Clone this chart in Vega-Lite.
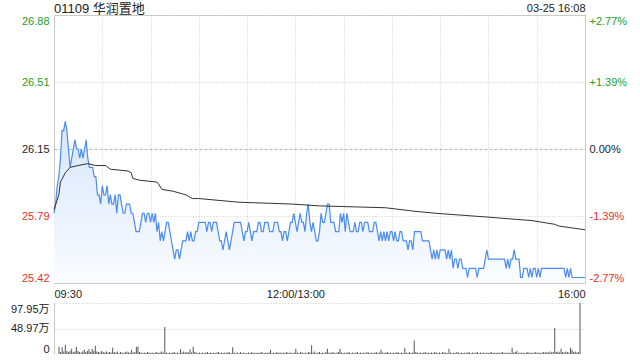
{
  "$schema": "https://vega.github.io/schema/vega-lite/v6.json",
  "padding": {"left": 10, "top": 1, "right": 0, "bottom": 0},
  "background": "white",
  "config": {
    "font": "Liberation Sans, Noto Sans CJK SC",
    "view": {"stroke": null},
    "axis": {"labelFont": "Liberation Sans, Noto Sans CJK SC", "labelFontSize": 11, "ticks": false, "domain": false, "title": null}
  },
  "datasets": {
    "price": [
      {"m":0,"p":25.80},{"m":1,"p":25.85},{"m":2,"p":25.95},{"m":3,"p":26.00},{"m":4,"p":26.10},{"m":5,"p":26.25},{"m":6,"p":26.25},{"m":7,"p":26.30},{"m":8,"p":26.25},{"m":9,"p":26.15},
      {"m":10,"p":26.05},{"m":11,"p":26.10},{"m":12,"p":26.15},{"m":13,"p":26.20},{"m":14,"p":26.15},{"m":15,"p":26.15},{"m":16,"p":26.10},{"m":17,"p":26.15},{"m":18,"p":26.10},{"m":19,"p":26.15},
      {"m":20,"p":26.20},{"m":21,"p":26.10},{"m":22,"p":26.05},{"m":23,"p":26.05},{"m":24,"p":26.05},{"m":25,"p":26.00},{"m":26,"p":26.00},{"m":27,"p":25.90},{"m":28,"p":25.90},{"m":29,"p":25.85},
      {"m":30,"p":25.95},{"m":31,"p":25.90},{"m":32,"p":25.90},{"m":33,"p":25.95},{"m":34,"p":25.85},{"m":35,"p":25.90},{"m":36,"p":25.85},{"m":37,"p":25.85},{"m":38,"p":25.90},{"m":39,"p":25.80},
      {"m":40,"p":25.90},{"m":41,"p":25.90},{"m":42,"p":25.85},{"m":43,"p":25.80},{"m":44,"p":25.80},{"m":45,"p":25.85},{"m":46,"p":25.85},{"m":47,"p":25.85},{"m":48,"p":25.80},{"m":49,"p":25.80},
      {"m":50,"p":25.75},{"m":51,"p":25.70},{"m":52,"p":25.70},{"m":53,"p":25.70},{"m":54,"p":25.75},{"m":55,"p":25.80},{"m":56,"p":25.80},{"m":57,"p":25.75},{"m":58,"p":25.80},{"m":59,"p":25.80},
      {"m":60,"p":25.75},{"m":61,"p":25.80},{"m":62,"p":25.75},{"m":63,"p":25.80},{"m":64,"p":25.70},{"m":65,"p":25.75},{"m":66,"p":25.65},{"m":67,"p":25.70},{"m":68,"p":25.65},{"m":69,"p":25.70},
      {"m":70,"p":25.75},{"m":71,"p":25.75},{"m":72,"p":25.70},{"m":73,"p":25.65},{"m":74,"p":25.60},{"m":75,"p":25.55},{"m":76,"p":25.60},{"m":77,"p":25.60},{"m":78,"p":25.55},{"m":79,"p":25.60},
      {"m":80,"p":25.65},{"m":81,"p":25.65},{"m":82,"p":25.65},{"m":83,"p":25.70},{"m":84,"p":25.65},{"m":85,"p":25.70},{"m":86,"p":25.65},{"m":87,"p":25.65},{"m":88,"p":25.70},{"m":89,"p":25.70},
      {"m":90,"p":25.75},{"m":91,"p":25.75},{"m":92,"p":25.75},{"m":93,"p":25.75},{"m":94,"p":25.75},{"m":95,"p":25.70},{"m":96,"p":25.75},{"m":97,"p":25.75},{"m":98,"p":25.70},{"m":99,"p":25.75},
      {"m":100,"p":25.75},{"m":101,"p":25.75},{"m":102,"p":25.70},{"m":103,"p":25.65},{"m":104,"p":25.65},{"m":105,"p":25.60},{"m":106,"p":25.65},{"m":107,"p":25.70},{"m":108,"p":25.65},{"m":109,"p":25.60},
      {"m":110,"p":25.65},{"m":111,"p":25.70},{"m":112,"p":25.75},{"m":113,"p":25.75},{"m":114,"p":25.75},{"m":115,"p":25.75},{"m":116,"p":25.75},{"m":117,"p":25.70},{"m":118,"p":25.65},{"m":119,"p":25.70},
      {"m":120,"p":25.70},{"m":121,"p":25.75},{"m":122,"p":25.70},{"m":123,"p":25.65},{"m":124,"p":25.70},{"m":125,"p":25.70},{"m":126,"p":25.70},{"m":127,"p":25.75},{"m":128,"p":25.75},{"m":129,"p":25.70},
      {"m":130,"p":25.70},{"m":131,"p":25.75},{"m":132,"p":25.75},{"m":133,"p":25.75},{"m":134,"p":25.70},{"m":135,"p":25.70},{"m":136,"p":25.70},{"m":137,"p":25.75},{"m":138,"p":25.75},{"m":139,"p":25.75},
      {"m":140,"p":25.70},{"m":141,"p":25.70},{"m":142,"p":25.65},{"m":143,"p":25.70},{"m":144,"p":25.70},{"m":145,"p":25.65},{"m":146,"p":25.70},{"m":147,"p":25.75},{"m":148,"p":25.75},{"m":149,"p":25.80},
      {"m":150,"p":25.75},{"m":151,"p":25.70},{"m":152,"p":25.75},{"m":153,"p":25.80},{"m":154,"p":25.75},{"m":155,"p":25.75},{"m":156,"p":25.70},{"m":157,"p":25.80},{"m":158,"p":25.85},{"m":159,"p":25.75},
      {"m":160,"p":25.70},{"m":161,"p":25.75},{"m":162,"p":25.70},{"m":163,"p":25.65},{"m":164,"p":25.65},{"m":165,"p":25.70},{"m":166,"p":25.80},{"m":167,"p":25.75},{"m":168,"p":25.75},{"m":169,"p":25.80},
      {"m":170,"p":25.85},{"m":171,"p":25.85},{"m":172,"p":25.75},{"m":173,"p":25.75},{"m":174,"p":25.75},{"m":175,"p":25.70},{"m":176,"p":25.70},{"m":177,"p":25.70},{"m":178,"p":25.80},{"m":179,"p":25.75},
      {"m":180,"p":25.80},{"m":181,"p":25.70},{"m":182,"p":25.80},{"m":183,"p":25.75},{"m":184,"p":25.70},{"m":185,"p":25.70},{"m":186,"p":25.70},{"m":187,"p":25.75},{"m":188,"p":25.70},{"m":189,"p":25.70},
      {"m":190,"p":25.75},{"m":191,"p":25.75},{"m":192,"p":25.70},{"m":193,"p":25.75},{"m":194,"p":25.75},{"m":195,"p":25.75},{"m":196,"p":25.70},{"m":197,"p":25.70},{"m":198,"p":25.70},{"m":199,"p":25.75},
      {"m":200,"p":25.75},{"m":201,"p":25.70},{"m":202,"p":25.65},{"m":203,"p":25.70},{"m":204,"p":25.65},{"m":205,"p":25.70},{"m":206,"p":25.65},{"m":207,"p":25.70},{"m":208,"p":25.65},{"m":209,"p":25.70},
      {"m":210,"p":25.70},{"m":211,"p":25.65},{"m":212,"p":25.70},{"m":213,"p":25.65},{"m":214,"p":25.65},{"m":215,"p":25.70},{"m":216,"p":25.70},{"m":217,"p":25.65},{"m":218,"p":25.65},{"m":219,"p":25.65},
      {"m":220,"p":25.60},{"m":221,"p":25.65},{"m":222,"p":25.65},{"m":223,"p":25.60},{"m":224,"p":25.70},{"m":225,"p":25.70},{"m":226,"p":25.70},{"m":227,"p":25.70},{"m":228,"p":25.70},{"m":229,"p":25.65},
      {"m":230,"p":25.65},{"m":231,"p":25.65},{"m":232,"p":25.65},{"m":233,"p":25.65},{"m":234,"p":25.60},{"m":235,"p":25.55},{"m":236,"p":25.60},{"m":237,"p":25.55},{"m":238,"p":25.60},{"m":239,"p":25.55},
      {"m":240,"p":25.60},{"m":241,"p":25.60},{"m":242,"p":25.60},{"m":243,"p":25.60},{"m":244,"p":25.55},{"m":245,"p":25.60},{"m":246,"p":25.55},{"m":247,"p":25.60},{"m":248,"p":25.50},{"m":249,"p":25.55},
      {"m":250,"p":25.55},{"m":251,"p":25.50},{"m":252,"p":25.55},{"m":253,"p":25.55},{"m":254,"p":25.50},{"m":255,"p":25.50},{"m":256,"p":25.50},{"m":257,"p":25.45},{"m":258,"p":25.50},{"m":259,"p":25.50},
      {"m":260,"p":25.50},{"m":261,"p":25.50},{"m":262,"p":25.50},{"m":263,"p":25.45},{"m":264,"p":25.50},{"m":265,"p":25.50},{"m":266,"p":25.50},{"m":267,"p":25.50},{"m":268,"p":25.55},{"m":269,"p":25.60},
      {"m":270,"p":25.55},{"m":271,"p":25.55},{"m":272,"p":25.55},{"m":273,"p":25.55},{"m":274,"p":25.55},{"m":275,"p":25.55},{"m":276,"p":25.55},{"m":277,"p":25.55},{"m":278,"p":25.55},{"m":279,"p":25.55},
      {"m":280,"p":25.55},{"m":281,"p":25.50},{"m":282,"p":25.55},{"m":283,"p":25.50},{"m":284,"p":25.55},{"m":285,"p":25.55},{"m":286,"p":25.60},{"m":287,"p":25.55},{"m":288,"p":25.55},{"m":289,"p":25.55},
      {"m":290,"p":25.45},{"m":291,"p":25.45},{"m":292,"p":25.50},{"m":293,"p":25.50},{"m":294,"p":25.50},{"m":295,"p":25.45},{"m":296,"p":25.50},{"m":297,"p":25.45},{"m":298,"p":25.50},{"m":299,"p":25.50},
      {"m":300,"p":25.45},{"m":301,"p":25.50},{"m":302,"p":25.45},{"m":303,"p":25.50},{"m":304,"p":25.50},{"m":305,"p":25.50},{"m":306,"p":25.50},{"m":307,"p":25.50},{"m":308,"p":25.50},{"m":309,"p":25.50},
      {"m":310,"p":25.50},{"m":311,"p":25.50},{"m":312,"p":25.50},{"m":313,"p":25.50},{"m":314,"p":25.50},{"m":315,"p":25.50},{"m":316,"p":25.50},{"m":317,"p":25.50},{"m":318,"p":25.45},{"m":319,"p":25.50},
      {"m":320,"p":25.45},{"m":321,"p":25.50},{"m":322,"p":25.45},{"m":323,"p":25.45},{"m":324,"p":25.45},{"m":325,"p":25.45},{"m":326,"p":25.45},{"m":327,"p":25.45},{"m":328,"p":25.45},{"m":329,"p":25.45},
      {"m":330,"p":25.45}
    ],
    "avg": [
      {"m":0,"a":25.82},{"m":3,"a":25.90},{"m":4,"a":25.97},{"m":7,"a":26.02},{"m":10,"a":26.05},{"m":15,"a":26.06},{"m":21,"a":26.07},{"m":26,"a":26.06},{"m":32,"a":26.06},{"m":35,"a":26.04},
      {"m":46,"a":26.03},{"m":48,"a":26.02},{"m":49,"a":25.99},{"m":53,"a":25.98},{"m":64,"a":25.97},{"m":65,"a":25.96},{"m":67,"a":25.93},{"m":74,"a":25.92},{"m":82,"a":25.90},{"m":84,"a":25.89},
      {"m":86,"a":25.88},{"m":90,"a":25.88},{"m":115,"a":25.86},{"m":148,"a":25.85},{"m":165,"a":25.84},{"m":206,"a":25.83},{"m":225,"a":25.81},{"m":237,"a":25.80},{"m":268,"a":25.78},{"m":297,"a":25.76},
      {"m":311,"a":25.74},{"m":314,"a":25.73},{"m":330,"a":25.71}
    ],
    "vol": [
      {"m":0,"v":14},{"m":1,"v":4},{"m":2,"v":13},{"m":3,"v":5},{"m":4,"v":18},{"m":5,"v":6},{"m":6,"v":4},{"m":7,"v":6},{"m":8,"v":10},{"m":9,"v":4},
      {"m":10,"v":5},{"m":11,"v":14},{"m":12,"v":6},{"m":13,"v":4},{"m":14,"v":3},{"m":15,"v":5},{"m":16,"v":8},{"m":17,"v":4},{"m":18,"v":6},{"m":19,"v":9},
      {"m":20,"v":4},{"m":21,"v":10},{"m":22,"v":6},{"m":23,"v":16},{"m":24,"v":5},{"m":25,"v":4},{"m":26,"v":3},{"m":27,"v":6},{"m":28,"v":4},{"m":29,"v":3},
      {"m":30,"v":5},{"m":31,"v":3},{"m":32,"v":4},{"m":33,"v":3},{"m":34,"v":12},{"m":35,"v":4},{"m":36,"v":3},{"m":37,"v":5},{"m":38,"v":2},{"m":39,"v":4},
      {"m":40,"v":3},{"m":41,"v":2},{"m":42,"v":4},{"m":43,"v":5},{"m":44,"v":3},{"m":45,"v":3},{"m":46,"v":8},{"m":47,"v":3},{"m":48,"v":4},{"m":49,"v":14},
      {"m":50,"v":14},{"m":51,"v":4},{"m":52,"v":3},{"m":53,"v":2},{"m":54,"v":3},{"m":55,"v":2},{"m":56,"v":4},{"m":57,"v":3},{"m":58,"v":2},{"m":59,"v":3},
      {"m":60,"v":2},{"m":61,"v":3},{"m":62,"v":4},{"m":63,"v":2},{"m":64,"v":3},{"m":65,"v":5},{"m":66,"v":3},{"m":67,"v":52},{"m":68,"v":3},{"m":69,"v":2},
      {"m":70,"v":3},{"m":71,"v":2},{"m":72,"v":3},{"m":73,"v":4},{"m":74,"v":2},{"m":75,"v":3},{"m":76,"v":2},{"m":77,"v":9},{"m":78,"v":3},{"m":79,"v":5},
      {"m":80,"v":3},{"m":81,"v":4},{"m":82,"v":3},{"m":83,"v":9},{"m":84,"v":3},{"m":85,"v":14},{"m":86,"v":4},{"m":87,"v":3},{"m":88,"v":2},{"m":89,"v":3},
      {"m":90,"v":2},{"m":91,"v":3},{"m":92,"v":2},{"m":93,"v":3},{"m":94,"v":4},{"m":95,"v":2},{"m":96,"v":3},{"m":97,"v":2},{"m":98,"v":3},{"m":99,"v":2},
      {"m":100,"v":3},{"m":101,"v":4},{"m":102,"v":2},{"m":103,"v":3},{"m":104,"v":2},{"m":105,"v":3},{"m":106,"v":2},{"m":107,"v":4},{"m":108,"v":3},{"m":109,"v":2},
      {"m":110,"v":13},{"m":111,"v":3},{"m":112,"v":2},{"m":113,"v":3},{"m":114,"v":2},{"m":115,"v":4},{"m":116,"v":2},{"m":117,"v":3},{"m":118,"v":2},{"m":119,"v":2},
      {"m":120,"v":3},{"m":121,"v":2},{"m":122,"v":4},{"m":123,"v":2},{"m":124,"v":3},{"m":125,"v":2},{"m":126,"v":3},{"m":127,"v":2},{"m":128,"v":4},{"m":129,"v":3},
      {"m":130,"v":2},{"m":131,"v":3},{"m":132,"v":2},{"m":133,"v":3},{"m":134,"v":8},{"m":135,"v":2},{"m":136,"v":3},{"m":137,"v":2},{"m":138,"v":4},{"m":139,"v":2},
      {"m":140,"v":3},{"m":141,"v":2},{"m":142,"v":3},{"m":143,"v":2},{"m":144,"v":4},{"m":145,"v":3},{"m":146,"v":2},{"m":147,"v":3},{"m":148,"v":2},{"m":149,"v":3},
      {"m":150,"v":10},{"m":151,"v":3},{"m":152,"v":2},{"m":153,"v":4},{"m":154,"v":3},{"m":155,"v":2},{"m":156,"v":3},{"m":157,"v":2},{"m":158,"v":4},{"m":159,"v":3},
      {"m":160,"v":17},{"m":161,"v":3},{"m":162,"v":5},{"m":163,"v":2},{"m":164,"v":3},{"m":165,"v":4},{"m":166,"v":2},{"m":167,"v":3},{"m":168,"v":2},{"m":169,"v":4},
      {"m":170,"v":10},{"m":171,"v":3},{"m":172,"v":2},{"m":173,"v":4},{"m":174,"v":3},{"m":175,"v":2},{"m":176,"v":3},{"m":177,"v":4},{"m":178,"v":10},{"m":179,"v":3},
      {"m":180,"v":2},{"m":181,"v":3},{"m":182,"v":2},{"m":183,"v":4},{"m":184,"v":3},{"m":185,"v":2},{"m":186,"v":3},{"m":187,"v":2},{"m":188,"v":3},{"m":189,"v":4},
      {"m":190,"v":2},{"m":191,"v":3},{"m":192,"v":2},{"m":193,"v":3},{"m":194,"v":2},{"m":195,"v":4},{"m":196,"v":3},{"m":197,"v":2},{"m":198,"v":3},{"m":199,"v":2},
      {"m":200,"v":3},{"m":201,"v":4},{"m":202,"v":2},{"m":203,"v":3},{"m":204,"v":8},{"m":205,"v":3},{"m":206,"v":2},{"m":207,"v":3},{"m":208,"v":4},{"m":209,"v":2},
      {"m":210,"v":3},{"m":211,"v":2},{"m":212,"v":3},{"m":213,"v":2},{"m":214,"v":4},{"m":215,"v":3},{"m":216,"v":2},{"m":217,"v":3},{"m":218,"v":2},{"m":219,"v":12},
      {"m":220,"v":3},{"m":221,"v":2},{"m":222,"v":4},{"m":223,"v":2},{"m":224,"v":3},{"m":225,"v":26},{"m":226,"v":4},{"m":227,"v":3},{"m":228,"v":2},{"m":229,"v":3},
      {"m":230,"v":2},{"m":231,"v":3},{"m":232,"v":4},{"m":233,"v":2},{"m":234,"v":3},{"m":235,"v":2},{"m":236,"v":3},{"m":237,"v":2},{"m":238,"v":4},{"m":239,"v":3},
      {"m":240,"v":2},{"m":241,"v":3},{"m":242,"v":2},{"m":243,"v":4},{"m":244,"v":3},{"m":245,"v":3},{"m":246,"v":2},{"m":247,"v":10},{"m":248,"v":3},{"m":249,"v":2},
      {"m":250,"v":3},{"m":251,"v":2},{"m":252,"v":4},{"m":253,"v":3},{"m":254,"v":2},{"m":255,"v":3},{"m":256,"v":2},{"m":257,"v":3},{"m":258,"v":2},{"m":259,"v":4},
      {"m":260,"v":3},{"m":261,"v":2},{"m":262,"v":3},{"m":263,"v":2},{"m":264,"v":3},{"m":265,"v":4},{"m":266,"v":2},{"m":267,"v":3},{"m":268,"v":2},{"m":269,"v":3},
      {"m":270,"v":2},{"m":271,"v":3},{"m":272,"v":2},{"m":273,"v":3},{"m":274,"v":4},{"m":275,"v":2},{"m":276,"v":3},{"m":277,"v":2},{"m":278,"v":3},{"m":279,"v":2},
      {"m":280,"v":3},{"m":281,"v":4},{"m":282,"v":2},{"m":283,"v":3},{"m":284,"v":2},{"m":285,"v":3},{"m":286,"v":2},{"m":287,"v":12},{"m":288,"v":3},{"m":289,"v":4},
      {"m":290,"v":6},{"m":291,"v":2},{"m":292,"v":3},{"m":293,"v":2},{"m":294,"v":3},{"m":295,"v":2},{"m":296,"v":3},{"m":297,"v":4},{"m":298,"v":2},{"m":299,"v":3},
      {"m":300,"v":2},{"m":301,"v":3},{"m":302,"v":4},{"m":303,"v":2},{"m":304,"v":3},{"m":305,"v":2},{"m":306,"v":3},{"m":307,"v":4},{"m":308,"v":3},{"m":309,"v":4},
      {"m":310,"v":3},{"m":311,"v":5},{"m":312,"v":3},{"m":313,"v":4},{"m":314,"v":50},{"m":315,"v":4},{"m":316,"v":5},{"m":317,"v":3},{"m":318,"v":10},{"m":319,"v":4},
      {"m":320,"v":3},{"m":321,"v":5},{"m":322,"v":4},{"m":323,"v":3},{"m":324,"v":12},{"m":325,"v":8},{"m":326,"v":4},{"m":327,"v":5},{"m":328,"v":3},{"m":329,"v":4},
      {"m":330,"v":97.95}
    ]
  },
  "vconcat": [
    {
      "width": 531,
      "height": 268,
      "title": {"text": "01109 华润置地", "anchor": "start", "frame": "group", "fontSize": 13, "fontWeight": "normal", "color": "#222", "offset": -14},
      "view": {"stroke": "#c8c8c8"},
      "layer": [
        {
          "data": {"name": "price"},
          "mark": {"type": "area", "color": {"gradient": "linear", "x1": 0, "y1": 0, "x2": 0, "y2": 1, "stops": [{"offset": 0, "color": "#d6e5fa"}, {"offset": 1, "color": "#fafcff"}]}},
          "encoding": {
            "x": {"field": "m", "type": "quantitative", "scale": {"domain": [0, 330], "nice": false, "zero": false},
              "axis": {"orient": "bottom", "values": [0,30,60,90,120,150,180,210,240,270,300,330],
                "labelExpr": "datum.value == 0 ? '09:30' : datum.value == 150 ? '12:00/13:00' : datum.value == 330 ? '16:00' : ''",
                "labelFlush": true, "labelOverlap": false, "labelPadding": 5, "labelColor": "#222", "grid": true, "gridColor": "#cfcfcf", "gridDash": [1, 2]}},
            "y": {"field": "p", "type": "quantitative", "scale": {"domain": [25.42, 26.88], "nice": false, "zero": false},
              "axis": {"orient": "left", "values": [25.42, 25.785, 26.15, 26.515, 26.88],
                "labelExpr": "datum.value < 25.5 ? '25.42' : datum.value < 26 ? '25.79' : datum.value < 26.3 ? '26.15' : datum.value < 26.7 ? '26.51' : '26.88'",
                "labelFlush": true, "labelOverlap": false, "labelPadding": 5, "grid": true,
                "labelColor": {"condition": [{"test": "datum.value > 26.2", "value": "#1f9e1f"}, {"test": "datum.value < 26.1", "value": "#e8302c"}], "value": "#222222"},
                "gridColor": {"condition": {"test": "abs(datum.value - 26.15) < 0.01", "value": "#b5b5b5"}, "value": "#cfcfcf"},
                "gridDash": {"condition": {"test": "abs(datum.value - 26.15) < 0.01", "value": [3, 2]}, "value": [1, 2]}}},
            "y2": {"datum": 25.42}
          }
        },
        {
          "data": {"name": "price"},
          "mark": {"type": "line", "color": "#4a8cf0", "strokeWidth": 1.2},
          "encoding": {
            "x": {"field": "m", "type": "quantitative", "axis": null},
            "y": {"field": "p", "type": "quantitative", "axis": null}
          }
        },
        {
          "data": {"name": "avg"},
          "mark": {"type": "line", "color": "#333333", "strokeWidth": 1},
          "encoding": {
            "x": {"field": "m", "type": "quantitative",
              "axis": {"orient": "top", "labels": false, "grid": false, "title": "03-25 16:08", "titleAnchor": "end", "titleFontWeight": "normal", "titleFontSize": 11, "titleColor": "#222", "titlePadding": 2, "titleFont": "Liberation Sans"}},
            "y": {"field": "a", "type": "quantitative",
              "axis": {"orient": "right", "values": [25.42, 25.785, 26.15, 26.515, 26.88],
                "labelExpr": "datum.value < 25.5 ? '-2.77%' : datum.value < 26 ? '-1.39%' : datum.value < 26.3 ? '0.00%' : datum.value < 26.7 ? '+1.39%' : '+2.77%'",
                "labelColor": {"condition": [{"test": "datum.value > 26.2", "value": "#1f9e1f"}, {"test": "datum.value < 26.1", "value": "#e8302c"}], "value": "#222222"},
                "labelFlush": true, "labelOverlap": false, "labelPadding": 4, "grid": false}}
          }
        }
      ],
      "resolve": {"axis": {"x": "independent", "y": "independent"}}
    },
    {
      "width": 531,
      "height": 51,
      "data": {"name": "vol"},
      "mark": {"type": "bar", "size": 1, "color": "#555555"},
      "encoding": {
        "x": {"field": "m", "type": "quantitative", "scale": {"domain": [0, 330], "nice": false, "zero": false}, "axis": null},
        "y": {"field": "v", "type": "quantitative", "scale": {"domain": [0, 97.95], "nice": false},
          "axis": {"orient": "left", "values": [0, 48.97, 97.95],
            "labelExpr": "datum.value == 0 ? '0' : datum.value < 60 ? '48.97万' : '97.95万'",
            "labelFlush": true, "labelOverlap": false, "labelPadding": 5, "labelColor": "#222", "grid": true, "gridColor": "#c8c8c8", "gridDash": [1, 2],
            "domain": true, "domainColor": "#c8c8c8"}}
      }
    }
  ],
  "spacing": 20,
  "bounds": "flush"
}
